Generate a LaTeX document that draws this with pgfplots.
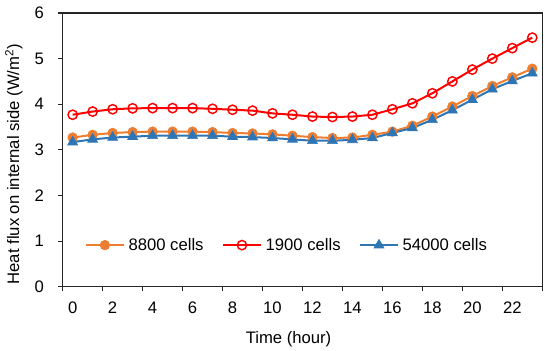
\documentclass[border=0pt]{standalone}
\usepackage{fontspec}
\setmainfont{Liberation Sans}
\usepackage{pgfplots}
\pgfplotsset{compat=1.18}
\usetikzlibrary{calc}
\definecolor{corange}{RGB}{237,125,49}
\definecolor{cred}{RGB}{255,0,0}
\definecolor{cblue}{RGB}{46,117,182}
\begin{document}
\begin{tikzpicture}
\begin{axis}[
  name=ax,
  scale only axis,
  width=359.7pt, height=205.3pt,
  xmin=-0.5, xmax=23.5, ymin=0, ymax=6,
  axis line style={line width=0.8pt, black!85},
  xtick={-0.5,1.5,3.5,5.5,7.5,9.5,11.5,13.5,15.5,17.5,19.5,21.5,23.5},
  xticklabels={},
  extra x ticks={0,2,4,6,8,10,12,14,16,18,20,22},
  extra x tick labels={0,2,4,6,8,10,12,14,16,18,20,22},
  extra x tick style={tick style={draw=none}},
  ytick={0,1,2,3,4,5,6},
  tick align=outside, tick pos=left,
  major tick length=3.5pt,
  tick style={line width=0.8pt, black!85},
  /pgf/number format/assume math mode=true,
  tick label style={font=\fontsize{12.5}{14}\selectfont},
  xticklabel style={yshift=-4.5pt},
  yticklabel style={xshift=-7pt},
  xlabel={Time (hour)},
  ylabel={Heat flux on internal side (W/m\textsuperscript{2})},
  label style={font=\fontsize{12.5}{14}\selectfont},
  xlabel style={at={(axis description cs:0.471,-0.19)}, anchor=center},
  ylabel style={at={(axis description cs:-0.1015,0.448)}, anchor=center},
  legend style={at={(0.0465,0.152)}, anchor=west, draw=none, fill=none,
    inner sep=0pt, font=\fontsize{12.5}{14}\selectfont,
    /tikz/every odd column/.append style={column sep=1pt},
    /tikz/every even column/.append style={column sep=12pt}},
  legend columns=3,
  legend image code/.code={\draw[mark repeat=2,mark phase=2] plot coordinates {(0pt,0pt) (14pt,0pt) (28pt,0pt)};},
]
\addplot[corange, line width=1.5pt, mark=*, mark size=3.6pt, mark options={fill=corange, draw=corange, line width=0.5pt}] coordinates {
(0,3.27) (1,3.33) (2,3.37) (3,3.39) (4,3.40) (5,3.40) (6,3.40) (7,3.39) (8,3.37) (9,3.36) (10,3.34) (11,3.31)
(12,3.28) (13,3.26) (14,3.27) (15,3.33) (16,3.40) (17,3.53) (18,3.73) (19,3.95) (20,4.18) (21,4.40) (22,4.59) (23,4.78)};
\addlegendentry{8800 cells}
\addplot[cred, line width=1.5pt, mark=o, mark size=3.5pt, mark options={fill=white, draw=cred, line width=1.1pt}] coordinates {
(0,3.77) (1,3.84) (2,3.89) (3,3.91) (4,3.915) (5,3.915) (6,3.915) (7,3.90) (8,3.88) (9,3.86) (10,3.80) (11,3.77)
(12,3.73) (13,3.72) (14,3.73) (15,3.77) (16,3.89) (17,4.02) (18,4.24) (19,4.50) (20,4.76) (21,5.00) (22,5.23) (23,5.46)};
\addlegendentry{1900 cells}
\addplot[cblue, line width=1.5pt, mark=triangle*, mark size=4.3pt, mark options={fill=cblue, draw=cblue, line width=0.5pt}] coordinates {
(0,3.17) (1,3.23) (2,3.27) (3,3.29) (4,3.31) (5,3.31) (6,3.31) (7,3.31) (8,3.29) (9,3.28) (10,3.26) (11,3.23)
(12,3.20) (13,3.20) (14,3.22) (15,3.26) (16,3.37) (17,3.48) (18,3.66) (19,3.87) (20,4.10) (21,4.33) (22,4.51) (23,4.68)};
\addlegendentry{54000 cells}
\end{axis}
\pgfresetboundingbox
\path ($(ax.south west)+(-47pt,-47.5pt)$) rectangle ($(ax.north east)+(5.8pt,9.75pt)$);
\end{tikzpicture}
\end{document}
